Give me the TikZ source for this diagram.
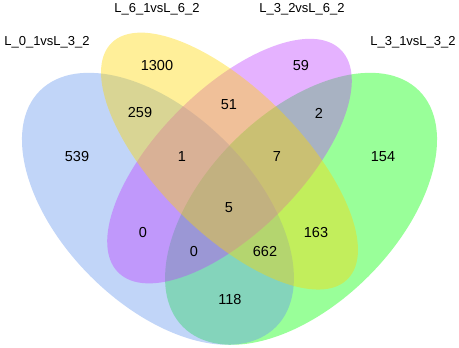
\documentclass[tikz,border=0pt]{standalone}
\usepackage{fontspec}
\setmainfont{Liberation Sans}
\definecolor{cfblue}{RGB}{100,149,237}
\definecolor{vgreen}{RGB}{0,255,0}
\definecolor{orchid}{RGB}{191,62,255}
\definecolor{vgold}{RGB}{255,215,0}
\tikzset{
  setfill/.style={fill=#1, fill opacity=0.4},
  num/.style={font=\fontsize{14.5}{16}\selectfont, inner sep=0pt},
  setlabel/.style={font=\fontsize{13}{15}\selectfont, inner sep=0pt}
}
\begin{document}
\begin{tikzpicture}[x=1pt,y=1pt]
\useasboundingbox (0,0) rectangle (459,348);
% ellipses (drawing order matters for overlap colours)
\fill[setfill=vgreen, rotate around={45:(301.05,139.2)}] (301.05,139.2) ellipse [x radius=166.95, y radius=95.4];
\fill[setfill=cfblue, rotate around={135:(157.95,139.2)}] (157.95,139.2) ellipse [x radius=166.95, y radius=95.4];
\fill[setfill=orchid, rotate around={45:(229.5,186.9)}] (229.5,186.9) ellipse [x radius=157.4, y radius=71.55];
\fill[setfill=vgold, rotate around={135:(229.5,186.9)}] (229.5,186.9) ellipse [x radius=166.95, y radius=71.55];
% set labels
\node[setlabel] (lA) at (47,306) {L\_0\_1vsL\_3\_2};
\node[setlabel] (lB) at (157,339) {L\_6\_1vsL\_6\_2};
\node[setlabel] (lC) at (302,339) {L\_3\_2vsL\_6\_2};
\node[setlabel] (lD) at (413,306) {L\_3\_1vsL\_3\_2};
% region counts
\node[num] (n1300) at (157,282) {1300};
\node[num] (n59) at (301,282) {59};
\node[num] (n259) at (140,235) {259};
\node[num] (n51) at (229,243) {51};
\node[num] (n2) at (319,235) {2};
\node[num] (n539) at (77,191) {539};
\node[num] (n1) at (182,191) {1};
\node[num] (n7) at (277,191) {7};
\node[num] (n154) at (383,191) {154};
\node[num] (n5) at (229,140) {5};
\node[num] (n0a) at (143,115) {0};
\node[num] (n163) at (316,115) {163};
\node[num] (n0b) at (194,96) {0};
\node[num] (n662) at (265,96) {662};
\node[num] (n118) at (230,48) {118};
\end{tikzpicture}
\end{document}
